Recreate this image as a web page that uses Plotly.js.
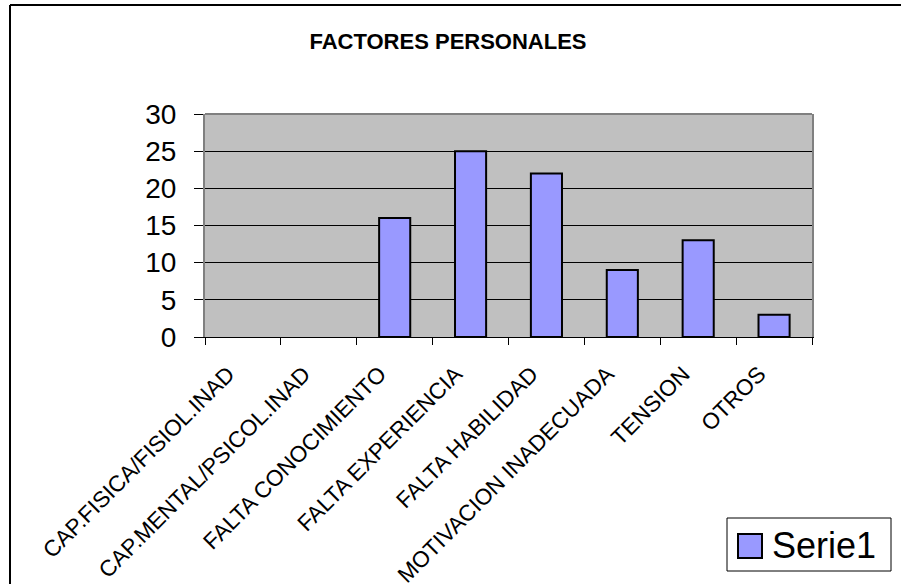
<!DOCTYPE html>
<html>
<head>
<meta charset="utf-8">
<script src="https://cdn.plot.ly/plotly-3.0.1.min.js"></script>
<style>html,body{margin:0;padding:0;background:#fff;}#chart{width:901px;height:584px;}</style>
</head>
<body>
<div id="chart"></div>
<script>
const categories = ["CAP.FISICA/FISIOL.INAD", "CAP.MENTAL/PSICOL.INAD", "FALTA CONOCIMIENTO", "FALTA EXPERIENCIA", "FALTA HABILIDAD", "MOTIVACION INADECUADA", "TENSION", "OTROS"];
const serie1 = [0, 0, 16, 25, 22, 9, 13, 3];
const yTicks = [0, 5, 10, 15, 20, 25, 30];
const seriesName = "Serie1";
const chartTitle = "FACTORES PERSONALES";

const W = 901, H = 584;
const L = 205, R = 812, T = 114, B = 337;
const pw = R - L, ph = B - T;
const px = v => (v - L) / pw;
const py = v => (B - v) / ph;

const FONT = "Liberation Sans, Arial, sans-serif";

const trace = {
  type: "bar",
  x: categories,
  y: serie1,
  name: seriesName,
  showlegend: false,
  marker: { color: "#9999FF", line: { color: "#000000", width: serie1.map(v => v === 0 ? 0 : 2) } },
  hoverinfo: "x+y"
};

const layout = {
  width: W, height: H,
  margin: { l: L, r: W - R, t: T, b: H - B, pad: 0 },
  paper_bgcolor: "#FFFFFF",
  plot_bgcolor: "#C0C0C0",
  bargap: 0.59,
  showlegend: false,
  title: {
    text: "<b>" + chartTitle + "</b>",
    font: { family: FONT, size: 22, color: "#000" },
    x: 448 / W, xanchor: "center",
    y: 1 - 41 / H, yanchor: "middle"
  },
  xaxis: {
    type: "category",
    tickangle: -45,
    tickfont: { family: FONT, size: 22.5, color: "#000" },
    ticks: "outside", ticklen: 7, tickcolor: "#000", tickwidth: 1,
    tickson: "boundaries",
    ticklabelstandoff: 14,
    ticklabelshift: -15,
    showline: true, linecolor: "#000", linewidth: 1,
    showgrid: false, zeroline: false,
    fixedrange: true
  },
  yaxis: {
    range: [0, 30],
    tickvals: yTicks,
    ticktext: yTicks.map(String),
    tickfont: { family: FONT, size: 28, color: "#000" },
    ticks: "outside", ticklen: 9, tickcolor: "#000", tickwidth: 1,
    ticklabelstandoff: 12,
    showline: true, linecolor: "#808080", linewidth: 2, mirror: true,
    showgrid: true, gridcolor: "#000000", gridwidth: 1,
    zeroline: false,
    fixedrange: true
  },
  shapes: [
    { type: "line", xref: "paper", yref: "paper", x0: 0, x1: 1, y0: 1, y1: 1, line: { color: "#808080", width: 2 } },
    { type: "line", xref: "paper", yref: "paper", x0: px(10), x1: px(W), y0: py(5), y1: py(5), line: { color: "#000", width: 2 } },
    { type: "line", xref: "paper", yref: "paper", x0: px(10), x1: px(10), y0: py(5), y1: py(H), line: { color: "#000", width: 2 } },
    { type: "rect", xref: "paper", yref: "paper", x0: px(727), x1: px(891), y0: py(518), y1: py(571), line: { color: "#000", width: 1 }, fillcolor: "#FFFFFF" },
    { type: "rect", xref: "paper", yref: "paper", x0: px(738), x1: px(762), y0: py(534), y1: py(558), line: { color: "#000", width: 2 }, fillcolor: "#9999FF" }
  ],
  annotations: [
    { xref: "paper", yref: "paper", x: px(770), y: py(545), xanchor: "left", yanchor: "middle",
      text: seriesName, showarrow: false, font: { family: FONT, size: 36, color: "#000" } }
  ]
};

Plotly.newPlot("chart", [trace], layout, { displayModeBar: false, staticPlot: true });
</script>
</body>
</html>
